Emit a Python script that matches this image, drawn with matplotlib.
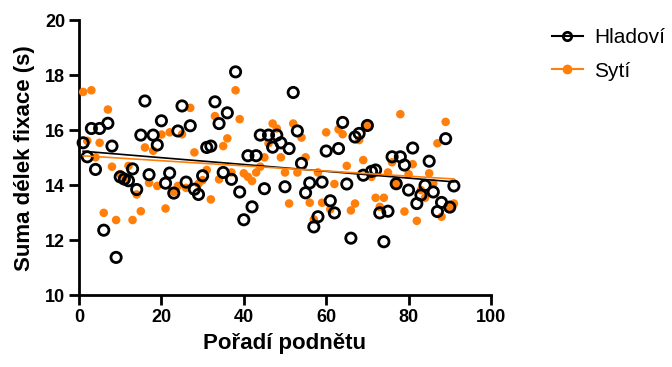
import numpy as np
import matplotlib
matplotlib.use("Agg")
import matplotlib.pyplot as plt
from matplotlib.lines import Line2D

plt.rcParams['font.family'] = ['Liberation Sans', 'DejaVu Sans']

stimulus = list(range(1, 92))

hladovi = [15.54, 15.03, 16.06, 14.57, 16.06, 12.36, 16.25, 15.42, 11.37, 14.30,
           14.22, 14.16, 14.59, 13.84, 15.82, 17.06, 14.38, 15.82, 15.46, 16.34,
           14.07, 14.44, 13.71, 15.97, 16.88, 14.11, 16.16, 13.85, 13.66, 14.34,
           15.37, 15.42, 17.03, 16.24, 14.46, 16.63, 14.21, 18.12, 13.75, 12.74,
           15.07, 13.21, 15.07, 15.82, 13.87, 15.82, 15.38, 15.82, 15.54, 13.94,
           15.33, 17.37, 15.97, 14.79, 13.72, 14.08, 12.48, 12.85, 14.11, 15.24,
           13.43, 12.99, 15.33, 16.28, 14.04, 12.07, 15.75, 15.88, 14.36, 16.17,
           14.50, 14.55, 12.99, 11.94, 13.05, 15.03, 14.05, 15.03, 14.73, 13.82,
           15.35, 13.33, 13.64, 13.99, 14.87, 13.75, 13.04, 13.37, 15.69, 13.20,
           13.97]

syti = [17.39, 15.61, 17.45, 15.01, 15.54, 12.99, 16.75, 14.67, 12.73, 14.40,
        14.25, 14.70, 12.73, 13.66, 13.05, 15.37, 14.08, 15.25, 13.97, 15.84,
        13.15, 15.92, 13.75, 13.97, 15.85, 13.90, 16.81, 15.19, 14.05, 14.18,
        14.55, 13.48, 16.51, 14.21, 15.42, 15.70, 14.46, 17.45, 16.40, 14.43,
        14.30, 14.15, 14.46, 14.67, 15.01, 15.52, 16.24, 16.06, 15.01, 14.46,
        13.33, 16.24, 14.46, 15.73, 15.01, 13.36, 12.75, 14.46, 13.36, 15.92,
        13.12, 14.04, 16.03, 15.85, 14.70, 13.08, 13.33, 15.64, 14.91, 16.17,
        14.30, 13.54, 13.21, 13.54, 14.46, 14.83, 14.05, 16.58, 13.04, 14.40,
        14.76, 12.70, 13.82, 13.54, 14.43, 14.06, 15.52, 12.85, 16.30, 13.20,
        13.33]

series_names = ["Hladoví", "Sytí"]
x_ticks = [0, 20, 40, 60, 80, 100]
y_ticks = [10, 12, 14, 16, 18, 20]

black = "#000000"
orange = "#FF7F0A"

fig = plt.figure(figsize=(6.72, 3.67), dpi=100)
ax = fig.add_axes([0.1176, 0.196, 0.613, 0.749])

x = np.array(stimulus, dtype=float)
h = np.array(hladovi)
s = np.array(syti)

ax.scatter(x, s, s=38, color=orange, edgecolors='none', zorder=3, clip_on=False)
ax.scatter(x, h, s=55, facecolors='none', edgecolors=black, linewidths=2.0, zorder=4, clip_on=False)

xl = np.array([x.min(), x.max()])
for data, col in ((h, black), (s, orange)):
    k, b = np.polyfit(x, data, 1)
    ax.plot(xl, k * xl + b, color=col, lw=1.2, zorder=5)

ax.set_xlim(0, 100)
ax.set_ylim(10, 20)
ax.set_xticks(x_ticks)
ax.set_yticks(y_ticks)
for sp in ('top', 'right'):
    ax.spines[sp].set_visible(False)
for sp in ('left', 'bottom'):
    ax.spines[sp].set_linewidth(2.0)
ax.tick_params(axis='both', direction='out', length=7, width=2.0, labelsize=13, pad=3)
for lab in ax.get_xticklabels() + ax.get_yticklabels():
    lab.set_fontweight('bold')

ax.set_xlabel("Pořadí podnětu", fontsize=16, fontweight='bold', labelpad=5)
ax.set_ylabel("Suma délek fixace (s)", fontsize=16, fontweight='bold', labelpad=7)

handles = [
    Line2D([0], [0], color=black, lw=1.5, marker='o', markersize=6, markerfacecolor='none',
           markeredgecolor=black, markeredgewidth=2.0),
    Line2D([0], [0], color=orange, lw=1.5, marker='o', markersize=6, markerfacecolor=orange,
           markeredgecolor=orange),
]
leg = fig.legend(handles, series_names, loc='upper left', bbox_to_anchor=(0.793, 0.975),
                 frameon=False, fontsize=15, handlelength=1.5, handletextpad=0.55,
                 labelspacing=0.7)

fig.savefig("out.png", dpi=100)
